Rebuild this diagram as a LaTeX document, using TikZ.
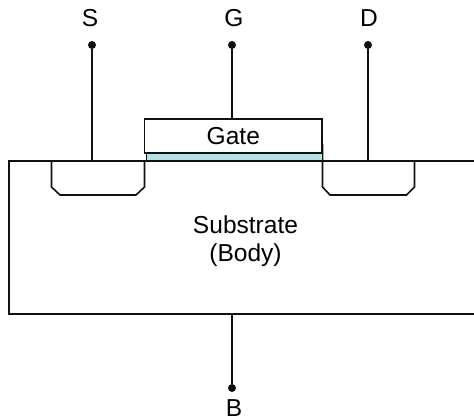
\documentclass[tikz,border=0pt]{standalone}
\usepackage{fontspec}
\setmainfont{Liberation Sans}
\usepackage{xcolor}
\definecolor{oxideFill}{HTML}{B7E0E3}
\definecolor{lineDark}{HTML}{111111}
\usetikzlibrary{positioning}
\tikzset{
    device/.style={
        draw=lineDark,
        line width=1.2pt
    },
    gatebox/.style={
        device,
        fill=white,
        rectangle,
        inner sep=0pt,
        minimum width=133pt,
        minimum height=25.5pt,
        font=\fontsize{18.4}{21}\selectfont
    },
    oxide/.style={
        device,
        fill=oxideFill,
        rectangle,
        inner sep=0pt,
        minimum width=132pt,
        minimum height=6pt
    },
    terminal/.style={
        fill=lineDark,
        circle,
        inner sep=0pt,
        minimum size=6pt
    },
    termlabel/.style={
        inner sep=0pt,
        font=\fontsize{18.4}{21}\selectfont
    },
    bodytext/.style={
        align=center,
        inner sep=0pt,
        font=\fontsize{18.4}{21}\selectfont
    }
}

\begin{document}
\begin{tikzpicture}[x=0.75pt,y=-0.75pt]
    \useasboundingbox (0,0) rectangle (474,420);

    % Substrate, open on the right
    \coordinate (bulkRight) at (474,161);
    \coordinate (bulkLeft) at (9,161);
    \coordinate (bulkBottom) at (474,314);
    \draw[device] (bulkRight) -- (bulkLeft) |- (bulkBottom);
    \node[bodytext] (body) at (245.5,241) {Substrate\\(Body)};

    % Source and drain wells
    \draw[device] (51.5,161) -- (51.5,187) -- (60,195) -- (136,195) -- (144.5,187) -- (144.5,161);
    \draw[device] (322.5,144) -- (322.5,187) -- (330,195) -- (406.5,195) -- (414.5,187) -- (414.5,161);

    % Gate stack
    \node[oxide] (ox) at (234.5,157) {};
    \node[gatebox] (gate) at (233.3,136) {Gate};

    % Terminals
    \node[terminal] (sDot) at (92,45) {};
    \node[terminal] (gDot) at (232,45) {};
    \node[terminal] (dDot) at (368,45) {};
    \node[terminal] (bDot) at (232,388) {};
    \node[termlabel, above=10.5pt of sDot, xshift=-1.5pt] (sLabel) {S};
    \node[termlabel, above=10.5pt of gDot, xshift=1.5pt] (gLabel) {G};
    \node[termlabel, above=10.5pt of dDot, xshift=0.75pt] (dLabel) {D};
    \node[termlabel, below=5.25pt of bDot, xshift=1.5pt] (bLabel) {B};

    % Connections
    \draw[device] (sDot) -- (sDot |- bulkLeft);
    \draw[device] (gDot) -- (gDot |- gate.north);
    \draw[device] (dDot) -- (dDot |- bulkLeft);
    \draw[device] (bDot) -- (bDot |- bulkBottom);
\end{tikzpicture}
\end{document}
